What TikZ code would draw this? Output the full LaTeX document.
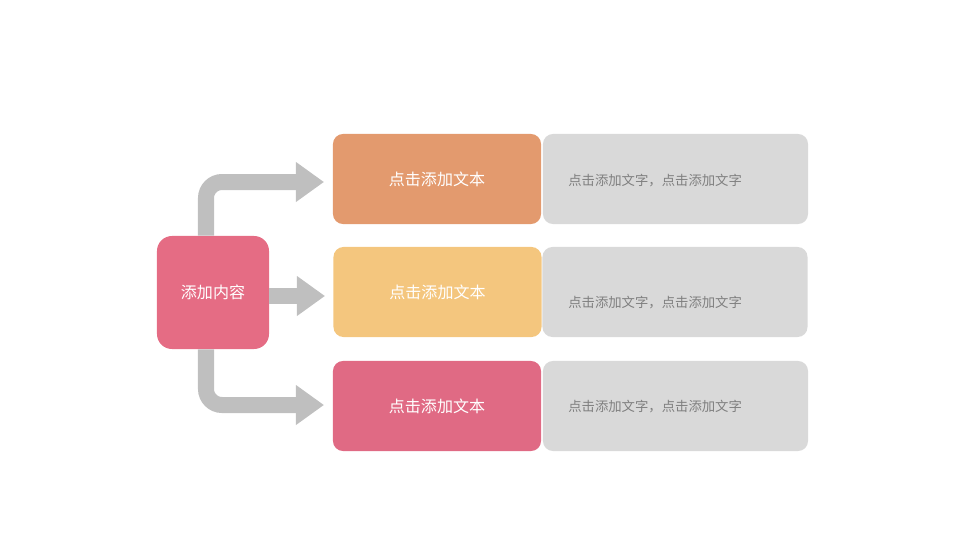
\documentclass[tikz,border=0pt]{standalone}
\usepackage{fontspec}
\setmainfont{Noto Sans CJK SC}
\usetikzlibrary{arrows.meta}

\definecolor{hubpink}{RGB}{229,108,132}
\definecolor{boxorange}{RGB}{227,154,110}
\definecolor{boxyellow}{RGB}{244,198,126}
\definecolor{boxpink}{RGB}{224,106,132}
\definecolor{boxgray}{RGB}{217,217,217}
\definecolor{flowgray}{RGB}{191,191,191}
\definecolor{textgray}{RGB}{127,127,127}

\tikzset{
	hub/.style={fill=hubpink, rounded corners=0.375cm, minimum width=2.8cm, minimum height=2.825cm,
		text=white, font=\fontsize{11.4}{13}\selectfont},
	titlebox/.style={fill=#1, rounded corners=0.25cm, minimum width=5.2cm, minimum height=2.25cm,
		text=white, font=\fontsize{11.4}{13}\selectfont},
	notebox/.style={fill=boxgray, rounded corners=0.25cm, minimum width=6.625cm, minimum height=2.25cm},
	notetext/.style={anchor=west, inner sep=0pt, text=textgray, font=\fontsize{9.5}{11}\selectfont},
	flow/.style={draw=flowgray, line width=0.4cm, rounded corners=0.4cm,
		-{Triangle[length=0.7cm, width=0.95cm]}}
}

\begin{document}
\begin{tikzpicture}[x=0.025cm, y=-0.025cm]

	\useasboundingbox (0,0) rectangle (960,540);

	\node[hub] (hub) at (213,292.5) {添加内容};

	\node[notebox] (n1) at (675.5,179) {};
	\node[notebox] (n2) at (675,292) {};
	\node[notebox] (n3) at (675.5,406) {};

	\node[titlebox=boxorange] (t1) at (437,179) {点击添加文本};
	\node[titlebox=boxyellow] (t2) at (437.5,292) {点击添加文本};
	\node[titlebox=boxpink] (t3) at (437,406) {点击添加文本};

	\node[notetext] (d1) at (568,181) {点击添加文字，点击添加文字};
	\node[notetext] (d2) at (568,303) {点击添加文字，点击添加文字};
	\node[notetext] (d3) at (568,407) {点击添加文字，点击添加文字};

	\coordinate (tip1) at (324,182);
	\coordinate (tip2) at (325,296);
	\coordinate (tip3) at (324,405);

	\draw[flow] ([xshift=-0.175cm]hub.north) |- (tip1);
	\draw[flow] (hub.east |- tip2) -- (tip2);
	\draw[flow] ([xshift=-0.175cm]hub.south) |- (tip3);

\end{tikzpicture}
\end{document}
